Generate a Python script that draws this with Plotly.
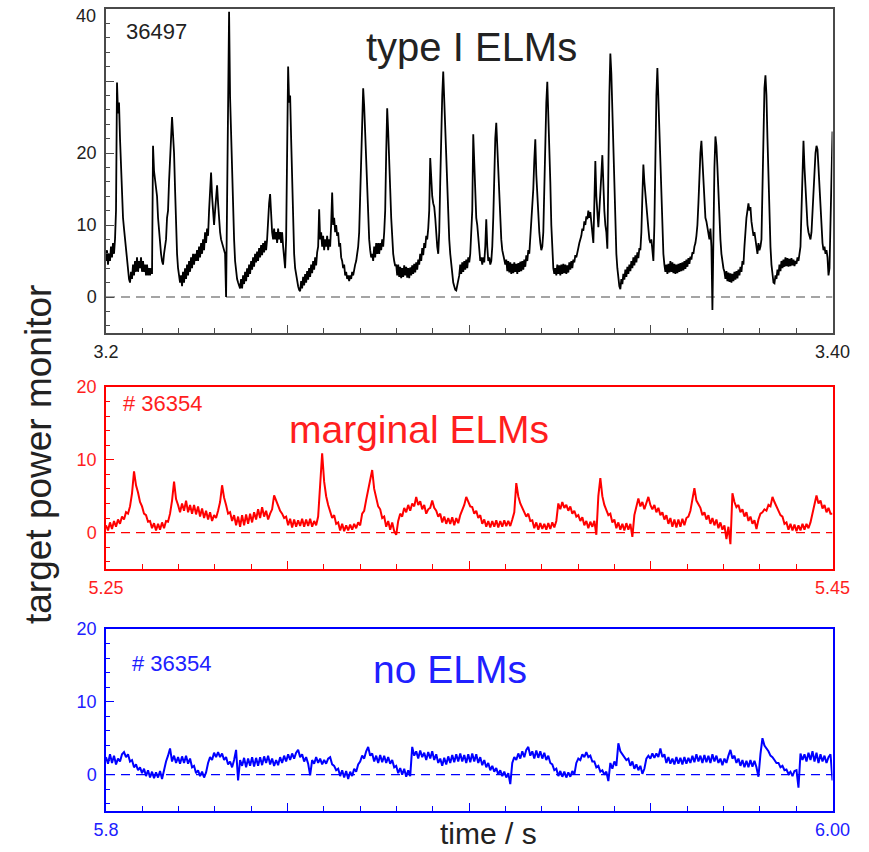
import numpy as np
import plotly.graph_objects as go

# ---------------------------------------------------------------------------
# Target power monitor signals (arbitrary units), uniformly sampled in time
# ---------------------------------------------------------------------------

# Shot 36497, type I ELMs, 3.20 - 3.40 s
t1_start, t1_end = 3.20, 3.40
p1 = [
    5, 6.5, 4.5, 6, 5, 7, 5.5, 7.5, 6, 8,
    12, 29.8, 25.5, 27, 22, 18, 14, 11, 9.5, 8,
    6, 4.5, 3.5, 2.5, 2, 3.5, 2.5, 4.5, 3, 5,
    3.5, 5.5, 3.5, 5, 4, 5.5, 3.5, 5, 3.5, 4.5,
    3, 4.5, 3, 4, 3, 4, 3.2, 21, 17.5, 16.5,
    15, 14, 11, 9, 7.5, 6, 5, 4.5, 6, 7,
    8, 11, 12, 16, 20, 22, 25, 22.5, 20, 15,
    10, 6, 4, 2.5, 2, 3, 1.5, 3.5, 2, 4,
    2.5, 4.5, 3, 5, 3.5, 5.5, 4, 6, 4.5, 6,
    5, 6.5, 5, 7, 5.5, 7.5, 6, 8, 6.5, 9,
    7.5, 9.5, 8.5, 12, 15, 17.3, 14, 11, 10, 12,
    14, 15.5, 13, 10, 9, 8, 7.5, 7, 6.5, 6,
    0, 12, 25, 39.6, 27.7, 22, 16, 12, 8, 5,
    3.5, 2.5, 2, 1.5, 1.2, 2.5, 1.2, 3, 1.8, 3.5,
    2.2, 4, 2.8, 4.5, 3.2, 5, 3.8, 5.5, 4.2, 6,
    4.8, 6.3, 5, 6.8, 5.5, 7.2, 5.8, 7.5, 6.2, 7.8,
    6.5, 8, 11, 13, 14.3, 11, 9, 8, 9.5, 8,
    9, 7.5, 9.5, 8, 9, 7.5, 9, 7, 5, 4,
    8, 20, 32, 27, 28, 22, 15, 10, 6, 4,
    3, 2, 1.5, 1, 0.8, 2.2, 1.2, 2.8, 1.6, 3.2,
    2, 3.6, 2.4, 4, 2.8, 4.5, 3.3, 5, 3.8, 5.5,
    4.4, 6.2, 7, 12.2, 8, 9, 7, 8.5, 6.5, 8,
    7, 8.5, 6.5, 8, 7, 10, 14.5, 10, 11, 9,
    10, 8.5, 9, 7, 7.5, 5.5, 5, 4, 4.5, 3,
    3.5, 2.5, 3, 2.2, 3, 2.5, 3.5, 3, 4, 4.5,
    5, 6, 7, 9, 14, 20, 25, 29, 26.5, 23,
    18, 14, 11, 8, 6.5, 5.5, 6, 5, 7, 5.5,
    7.5, 6, 7.5, 6, 7.5, 6.5, 8, 7, 9, 12,
    20, 26.2, 23, 20, 15, 11, 8, 6, 5, 4.3,
    4.5, 3, 4.5, 2.8, 4.2, 2.6, 4, 2.8, 4.4, 3,
    4.2, 2.7, 4, 2.6, 4.1, 3, 4.4, 3.2, 4.6, 3.4,
    4.8, 3.8, 5.2, 4.5, 6, 5, 6.8, 5.8, 7.5, 6.8,
    8.5, 8, 9.5, 12, 19.3, 16, 14, 13, 12.5, 11,
    8, 7, 6, 9, 16, 24, 28, 31.3, 27, 24,
    20, 15, 11, 8, 6, 4.5, 3, 2, 1.5, 1,
    0.9, 1.5, 2, 3, 4.5, 3.2, 4.8, 3.5, 5, 3.8,
    5.2, 4, 5.5, 4.8, 6, 8.6, 12, 22.6, 18, 14,
    11, 10, 8, 6.5, 5, 5.5, 4.5, 5.5, 4.8, 7,
    10.8, 7, 5, 5.5, 4.5, 5, 7, 11, 17, 22,
    24.2, 21, 17, 13, 10, 8, 6.5, 5.5, 5.2, 4.5,
    5.2, 3.6, 5, 3.4, 4.8, 3.2, 4.6, 3.3, 4.8, 3.5,
    4.6, 3.2, 4.7, 3.5, 4.9, 3.6, 5, 3.8, 5.2, 4.2,
    5.8, 5, 6.5, 6, 8, 10, 11.7, 15, 19, 21.9,
    17, 14, 11, 9, 7.5, 6.5, 7, 9, 15, 22,
    27, 29.9, 26, 22, 16, 10, 6, 4, 3.2, 4,
    3, 4.5, 3.2, 4.4, 3, 4.5, 3.2, 4.6, 3.3, 4.5,
    3.2, 4.4, 3.4, 4.8, 3.8, 5, 4, 5.2, 4.8, 5.8,
    5.5, 6.5, 6.8, 7.5, 8, 8.5, 9.5, 9.2, 10.5, 10,
    11.2, 10.8, 12, 11, 11.8, 10, 9, 7.5, 13, 18.9,
    14, 12, 9.7, 12, 14, 17, 19.7, 15, 12, 10,
    9, 6.7, 20, 28, 33.8, 31, 26, 20, 14, 9,
    6, 4, 2.5, 1.5, 1.1, 2.5, 1.8, 3.2, 2.4, 3.8,
    2.8, 4.2, 3.2, 4.5, 3.6, 5, 4, 5.5, 4.4, 5.8,
    4.8, 6.2, 5.4, 6.8, 6.5, 9, 14, 18.4, 16, 14,
    12, 10, 9.5, 8, 7.5, 8, 6, 5, 10, 22,
    28, 31.8, 27.6, 24, 18, 13, 9, 6, 4.5, 3.5,
    4.5, 3.2, 4.6, 3.4, 5, 3.5, 4.8, 3.3, 4.6, 3.2,
    4.5, 3.3, 4.6, 3.5, 4.7, 3.6, 4.8, 3.7, 5, 3.9,
    5.2, 4.2, 5.4, 4.6, 5.6, 5.2, 6.2, 6, 7, 7.5,
    8.5, 10, 13, 17, 20, 21.7, 19, 16, 13, 11,
    10.5, 9.5, 9, 8, 9.5, 7, -1.8, 10, 18, 22.3,
    21, 18, 14, 11, 8, 6, 4.8, 4, 3.5, 2.5,
    3.6, 2.2, 3.4, 2.1, 3.3, 2, 3.2, 2.2, 3.5, 2.4,
    3.6, 2.6, 3.8, 3, 4.2, 3.5, 5, 4.5, 7, 10,
    11, 12, 13, 12, 12.5, 10.5, 9.5, 8.5, 9, 7.5,
    7, 6, 7.5, 6.5, 7, 8, 15, 25, 29, 30.8,
    28, 22, 16, 11, 7, 4.5, 3, 2, 1.9, 3,
    2.5, 3.8, 3, 4.5, 3.6, 5, 4, 5.2, 4.2, 5.5,
    4.3, 5.4, 4.2, 5.3, 4.3, 5.4, 4.4, 5.2, 4.3, 5,
    4.6, 5.5, 5, 6, 7, 12, 18, 21.7, 18, 15,
    12, 10, 9, 8.5, 8, 9, 12, 16, 19, 20,
    21, 20.5, 18, 15, 12, 9, 7.5, 6.5, 7, 6,
    6.5, 5.5, 3, 4, 10, 18, 23,
]

# Shot 36354, marginal ELMs, 5.25 - 5.45 s
t2_start, t2_end = 5.25, 5.45
p2 = [
    1.0, 0.3, 1.4, 0.5, 1.6, 0.8, 1.8, 1.2, 2.2, 1.8,
    2.8, 2.6, 3.6, 5.4, 8.4, 6.5, 5.5, 4.2, 3.6, 2.6,
    2.4, 1.5, 1.6, 0.6, 1.3, 0.3, 1.2, 0.4, 1.4, 0.6,
    1.6, 1.5, 2.6, 4.4, 7.0, 4.6, 3.8, 2.8, 4.0, 3.0,
    4.4, 2.8, 3.8, 2.6, 3.8, 2.5, 3.6, 2.2, 3.3, 2.0,
    3.0, 1.8, 2.8, 1.6, 2.4, 2.0, 3.0, 4.2, 6.5, 4.8,
    3.8, 2.6, 2.8, 1.6, 2.4, 1.0, 2.2, 0.8, 2.4, 1.0,
    2.5, 1.2, 2.6, 1.4, 2.8, 1.8, 3.2, 2.0, 3.5, 2.2,
    3.0, 1.8, 2.6, 3.2, 5.1, 4.4, 3.8, 3.0, 2.6, 2.0,
    2.2, 1.0, 1.9, 0.7, 1.8, 0.8, 1.7, 0.9, 1.9, 0.8,
    1.8, 0.9, 1.9, 0.8, 1.6, 1.0, 2.2, 6.3, 10.9, 7.0,
    5.0, 3.8, 3.0, 2.0, 2.4, 1.2, 1.4, 0.3, 1.2, 0.2,
    1.0, 0.3, 1.1, 0.4, 1.2, 0.6, 1.4, 1.0, 2.6, 3.0,
    4.5, 5.8, 7.0, 8.6, 6.0, 4.8, 3.6, 3.2, 2.0, 2.2,
    0.8, 1.6, 0.4, 1.4, 0.2, -0.3, 1.6, 2.6, 2.2, 3.4,
    2.8, 3.8, 3.0, 4.0, 3.6, 4.9, 3.8, 4.3, 3.2, 3.8,
    2.6, 3.2, 3.4, 4.4, 3.4, 3.0, 2.2, 2.6, 1.4, 2.2,
    1.2, 2.0, 1.2, 2.1, 1.0, 2.0, 1.3, 2.4, 3.0, 3.8,
    4.9, 4.2, 3.6, 3.5, 2.6, 3.0, 2.0, 2.4, 1.2, 1.8,
    0.8, 1.6, 0.7, 1.6, 0.8, 1.7, 0.7, 1.6, 0.8, 1.7,
    0.9, 1.6, 0.9, 1.8, 2.8, 6.8, 5.0, 4.0, 3.4, 3.0,
    2.2, 2.6, 1.6, 1.7, 0.6, 1.4, 0.4, 1.3, 0.5, 1.2,
    0.4, 1.3, 0.5, 1.4, 0.7, 1.6, 4.0, 3.2, 4.2, 3.4,
    3.8, 3.0, 3.6, 2.6, 3.0, 2.2, 2.4, 1.6, 2.1, 1.0,
    1.6, 0.6, 1.5, 0.8, 1.6, -0.3, 5.0, 7.5, 5.0, 3.8,
    3.2, 2.4, 2.6, 1.4, 1.8, 0.6, 1.4, 0.4, 1.2, 0.3,
    1.3, 0.4, 1.2, -0.6, 2.4, 3.8, 4.7, 3.6, 4.2, 3.2,
    4.0, 4.9, 3.8, 3.2, 3.8, 2.8, 3.4, 2.4, 2.8, 1.8,
    2.4, 1.2, 2.0, 0.8, 1.8, 0.7, 1.8, 0.8, 1.9, 1.0,
    2.0, 2.2, 3.0, 4.6, 6.1, 4.4, 3.8, 3.4, 2.4, 2.8,
    1.8, 2.4, 1.2, 2.0, 1.0, 1.8, 0.6, 1.4, 0.4, 1.0,
    -0.9, 0.8, -1.6, 5.4, 4.2, 3.5, 3.8, 2.8, 3.2, 2.2,
    2.8, 1.6, 2.2, 1.2, 1.7, 0.5, 1.8, 2.6, 2.8, 3.2,
    3.0, 3.8, 3.6, 4.9, 4.2, 3.6, 3.2, 2.4, 2.2, 1.2,
    1.4, 0.4, 1.2, 0.3, 1.1, 0.2, 1.0, 0.3, 1.2, 0.4,
    1.2, 0.6, 1.4, 2.6, 3.6, 5.1, 4.0, 4.4, 3.3, 3.8,
    2.8, 3.4, 2.6, 2.6,
]

# Shot 36354, no ELMs, 5.80 - 6.00 s
t3_start, t3_end = 5.80, 6.00
p3 = [
    2.4, 1.5, 2.8, 1.6, 2.6, 1.4, 2.2, 1.8, 2.8, 3.1,
    2.4, 2.8, 1.8, 2.0, 1.0, 1.4, 0.6, 1.0, 0.2, 0.8,
    -0.2, 0.6, -0.4, 0.4, -0.5, 0.3, -0.4, 0.5, -0.6, 0.8,
    1.8, 2.6, 3.6, 1.8, 2.6, 1.6, 2.4, 1.5, 2.5, 1.6,
    2.6, 1.5, 2.2, 1.0, 1.2, 0.2, 0.6, -0.2, 0.4, -0.4,
    0.3, 1.6, 2.4, 2.0, 3.0, 2.4, 3.1, 2.4, 2.9, 2.0,
    2.4, 1.4, 1.8, 1.0, 2.0, 3.4, -0.8, 2.0, 1.2, 2.3,
    1.0, 2.2, 1.2, 2.4, 1.1, 2.3, 1.2, 2.4, 1.3, 2.5,
    1.6, 2.6, 1.4, 2.2, 1.2, 2.0, 1.3, 2.4, 1.6, 2.6,
    1.8, 2.8, 2.0, 2.9, 2.2, 3.0, 3.4, 2.4, 2.8, 1.8,
    2.4, 1.5, -0.1, 2.0, 1.5, 2.4, 1.6, 2.2, 1.4, 2.0,
    1.5, 2.2, 2.4, 1.4, 1.2, 0.6, 0.8, -0.2, 0.6, -0.4,
    0.5, -0.6, 0.4, -0.2, 0.8, 0.4, 1.4, 1.8, 2.6, 2.2,
    3.2, 3.8, 2.6, 2.9, 1.8, 2.6, 1.6, 2.7, 1.7, 2.6,
    1.6, 2.4, 1.5, 2.0, 1.0, 1.2, 0.2, 0.9, 0.0, 0.8,
    -0.3, 0.6, -0.2, 3.8, 2.6, 3.2, 2.2, 3.3, 2.4, 3.0,
    2.0, 3.1, 2.2, 3.2, 2.0, 2.8, 1.6, 2.2, 1.2, 2.3,
    1.4, 2.5, 1.6, 2.7, 1.7, 2.8, 1.8, 2.9, 1.8, 2.7,
    1.6, 2.8, 1.7, 2.9, 1.8, 2.8, 1.6, 2.4, 1.3, 2.0,
    1.0, 1.6, 0.6, 1.2, 0.4, 0.9, 0.0, 0.6, -0.2, 0.4,
    -0.4, 0.2, -1.3, 1.6, 2.4, 2.0, 2.9, 2.2, 3.2, 2.4,
    3.4, 3.8, 2.6, 3.2, 2.2, 3.3, 2.3, 3.2, 2.2, 3.0,
    2.0, 2.6, 1.6, 1.4, 0.6, 0.8, -0.2, 0.5, -0.3, 0.4,
    -0.4, 0.3, -0.3, 0.5, 0.0, 1.6, 2.2, 2.0, 2.8, 2.4,
    3.1, 2.4, 2.6, 1.8, 1.8, 1.0, 1.2, 0.4, 0.6, 0.0,
    0.4, -0.9, 1.6, 0.8, 1.8, 1.2, 4.3, 3.2, 2.8, 2.4,
    2.0, 2.2, 1.2, 1.8, 0.8, 1.4, 0.6, 1.2, 0.1, 0.8,
    2.2, 2.6, 2.2, 2.9, 2.3, 2.9, 2.4, 3.6, 2.4, 2.8,
    1.6, 2.4, 1.5, 2.2, 1.4, 2.4, 1.5, 2.3, 1.4, 2.4,
    1.5, 2.3, 1.6, 2.6, 1.7, 2.8, 1.8, 2.6, 1.6, 2.7,
    1.7, 2.6, 1.6, 2.8, 1.8, 2.6, 1.6, 2.2, 1.3, 2.2,
    1.6, 2.6, 3.4, 2.2, 2.6, 1.6, 2.2, 1.2, 2.0, 1.0,
    1.9, 1.0, 2.0, 1.1, 1.9, 1.0, -0.3, 2.8, 5.0, 4.0,
    3.6, 3.2, 2.6, 2.4, 2.0, 1.6, 1.6, 1.0, 1.2, 0.6,
    0.7, 0.1, 0.4, -0.2, 0.5, 0.6, -1.8, 2.9, 2.0, 2.8,
    1.8, 3.0, 2.0, 3.2, 1.8, 3.0, 1.6, 2.8, 1.8, 2.6,
    1.6, 2.4, 2.8, -0.8,
]

t1 = np.linspace(t1_start, t1_end, len(p1))
t2 = np.linspace(t2_start, t2_end, len(p2))
t3 = np.linspace(t3_start, t3_end, len(p3))

# ---------------------------------------------------------------------------
# Styling
# ---------------------------------------------------------------------------
W, H = 869, 852
FONT = "Liberation Sans, Arial, Helvetica, sans-serif"

BLACK_LINE = "#000000"
BLACK_AXIS = "#4a4a4a"
BLACK_TEXT = "#222222"
RED_LINE = "#ff0000"
RED_TEXT = "#ff1e1e"
BLUE_LINE = "#0000ff"
BLUE_TEXT = "#2020ff"
TICK_SIZE = 18


def fx(px):
    return px / W


def fy(py):
    return 1 - py / H


x_dom = [fx(106), fx(832.5)]
y_doms = [[fy(333), fy(9)], [fy(569), fy(387)], [fy(811), fy(629)]]

panels = [
    dict(t=t1, p=p1, t0=t1_start, t1=t1_end, yr=[-5, 40], line=BLACK_LINE,
         width=1.8, axis=BLACK_AXIS, text=BLACK_TEXT,
         left_label="3.2", right_label="3.40",
         ytv=[0, 10, 20, 30], ytt=["0", "10", "20", ""]),
    dict(t=t2, p=p2, t0=t2_start, t1=t2_end, yr=[-5, 20], line=RED_LINE,
         width=2.0, axis=RED_LINE, text=RED_TEXT,
         left_label="5.25", right_label="5.45",
         ytv=[0, 10, 20], ytt=["0", "10", "20"]),
    dict(t=t3, p=p3, t0=t3_start, t1=t3_end, yr=[-5, 20], line=BLUE_LINE,
         width=2.0, axis=BLUE_LINE, text=BLUE_TEXT,
         left_label="5.8", right_label="6.00",
         ytv=[0, 10, 20], ytt=["0", "10", "20"]),
]

fig = go.Figure()
layout = dict(
    width=W, height=H, autosize=False,
    margin=dict(l=0, r=0, t=0, b=0, pad=0),
    paper_bgcolor="white", plot_bgcolor="white",
    showlegend=False,
    font=dict(family=FONT),
)
shapes = []

for i, pn in enumerate(panels):
    n = "" if i == 0 else str(i + 1)
    fig.add_trace(go.Scatter(
        x=pn["t"], y=pn["p"], mode="lines",
        line=dict(color=pn["line"], width=pn["width"]),
        xaxis="x" + n, yaxis="y" + n, hoverinfo="skip",
    ))
    major = [pn["t0"] + k * 0.05 for k in range(5)]
    layout["xaxis" + n] = dict(
        domain=x_dom, anchor="y" + n, range=[pn["t0"], pn["t1"]],
        automargin=False,
        showline=True, linecolor=pn["axis"], linewidth=1.5, mirror=True,
        showgrid=False, zeroline=False,
        ticks="inside", ticklen=8, tickwidth=1.2, tickcolor=pn["axis"],
        tickmode="array", tickvals=major,
        ticktext=[pn["left_label"], "", "", "", pn["right_label"]],
        tickfont=dict(family=FONT, size=TICK_SIZE, color=pn["text"]),
        ticklabelstandoff=2,
        minor=dict(ticks="inside", ticklen=5, tickwidth=1.1,
                   tickcolor=pn["axis"], tick0=pn["t0"], dtick=0.01,
                   showgrid=False),
    )
    layout["yaxis" + n] = dict(
        domain=y_doms[i], anchor="x" + n, range=pn["yr"],
        automargin=False,
        showline=True, linecolor=pn["axis"], linewidth=1.5, mirror=True,
        showgrid=False, zeroline=False,
        ticks="inside", ticklen=8, tickwidth=1.2, tickcolor=pn["axis"],
        tickmode="array", tickvals=pn["ytv"], ticktext=pn["ytt"],
        tickfont=dict(family=FONT, size=TICK_SIZE, color=pn["text"]),
        ticklabelstandoff=4,
        minor=dict(ticks="inside", ticklen=4.5, tickwidth=1.1,
                   tickcolor=pn["axis"], tick0=0, dtick=2, showgrid=False),
    )
    # dashed zero reference
    shapes.append(dict(
        type="line", xref="x" + n, yref="y" + n,
        x0=pn["t0"], x1=pn["t1"], y0=0, y1=0,
        line=dict(color=pn["axis"], width=1.2, dash="9px,6px"),
        layer="below",
    ))

layout["shapes"] = shapes


def label(text, px, py, size, color, **kw):
    d = dict(text=text, x=fx(px), y=fy(py), xref="paper", yref="paper",
             showarrow=False, font=dict(family=FONT, size=size, color=color),
             xanchor="center", yanchor="middle")
    d.update(kw)
    return d


layout["annotations"] = [
    # top label of the first panel's y scale
    label("40", 98, 16, TICK_SIZE, BLACK_TEXT, xanchor="right"),
    label("36497", 156, 31, 22, BLACK_TEXT),
    label("type I ELMs", 471, 47, 40, BLACK_TEXT),
    label("# 36354", 163, 404, 22, RED_TEXT),
    label("marginal ELMs", 419, 429, 39, RED_TEXT),
    label("# 36354", 172, 663, 22, BLUE_TEXT),
    label("no ELMs", 450, 669, 39, BLUE_TEXT),
    label("time / s", 488, 833, 30, BLACK_TEXT),
    label("target power monitor", 38, 455, 37, BLACK_TEXT, textangle=-90),
]

fig.update_layout(**layout)
fig.write_html("out.html")
